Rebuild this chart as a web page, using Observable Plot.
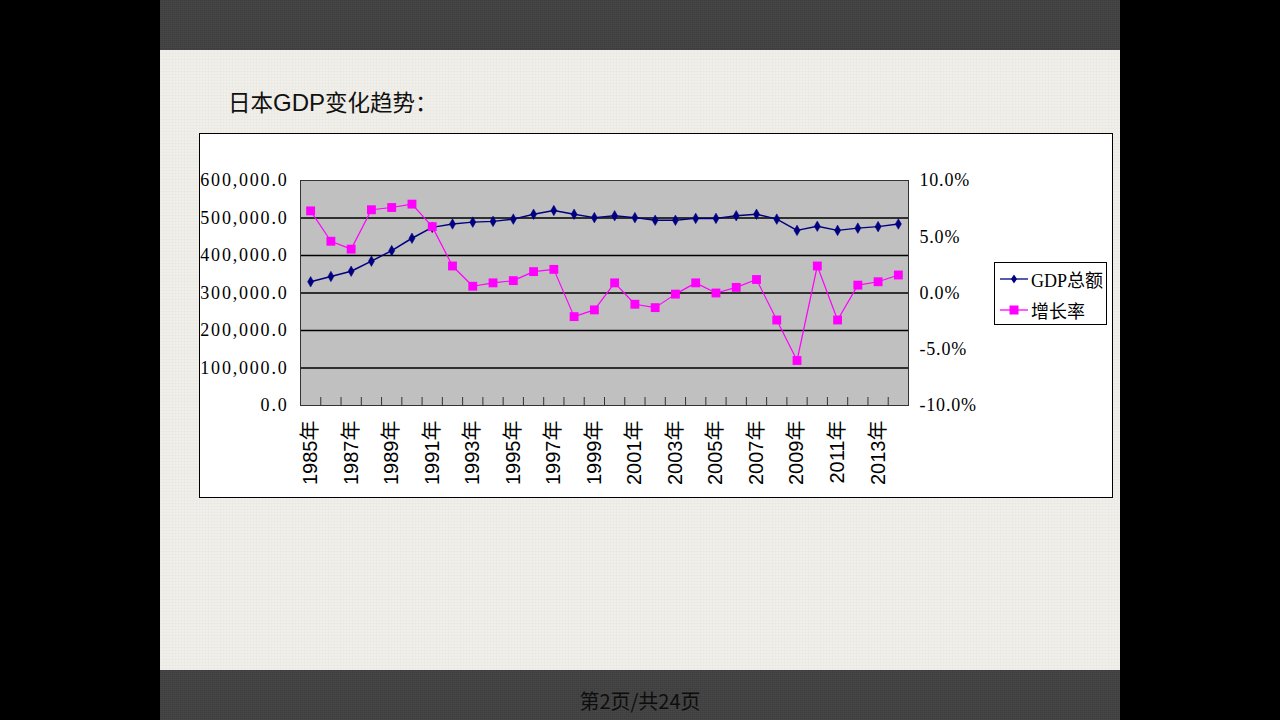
<!DOCTYPE html>
<html>
<head>
<meta charset="utf-8">
<script src="https://cdn.jsdelivr.net/npm/d3@7"></script>
<script src="https://cdn.jsdelivr.net/npm/@observablehq/plot@0.6"></script>
<style>
  html, body { margin: 0; padding: 0; background: #000; }
  #page { position: relative; width: 1280px; height: 720px; background: #000; overflow: hidden; }
  #slide { position: absolute; left: 160px; top: 0; width: 960px; height: 720px;
    background-color: #f1efe9;
    background-image: repeating-linear-gradient(0deg, rgba(0,0,0,0.015) 0 1px, transparent 1px 3px),
                      repeating-linear-gradient(90deg, rgba(0,0,0,0.015) 0 1px, transparent 1px 3px); }
  .bar { position: absolute; left: 160px; width: 960px; height: 50px; background-color: #414141;
    background-image: repeating-linear-gradient(0deg, rgba(255,255,255,0.03) 0 1px, transparent 1px 2px),
                      repeating-linear-gradient(90deg, rgba(0,0,0,0.05) 0 1px, transparent 1px 2px); }
  #topbar { top: 0; }
  #botbar { top: 670px; }
  #title { position: absolute; left: 228px; top: 90px; font-family: "Noto Sans CJK SC", "Liberation Sans", sans-serif;
    font-size: 22.5px; color: #111; white-space: nowrap; line-height: 1; }
  #title .lat { font-family: "Liberation Sans", Arial, sans-serif; font-size: 24px; }
  #footer { position: absolute; left: 0; width: 1280px; top: 691px; text-align: center;
    font-family: "Noto Sans CJK SC", sans-serif; font-size: 20px; color: #0d0d0d; line-height: 1; }
  #chartbox { position: absolute; left: 199px; top: 133px; width: 912px; height: 363px; border: 1px solid #000; background: #fff; }
  #chartbox svg { position: absolute; left: 0; top: 0; }
  #legend { position: absolute; left: 994px; top: 262px; width: 111px; height: 61px; border: 1px solid #000; background: #fff;
    font-family: "Liberation Serif", "Noto Sans CJK SC", serif; font-size: 18px; color: #000; }
  #legend .item { position: absolute; left: 5px; height: 24px; display: flex; align-items: center; white-space: nowrap; }
  #legend svg { margin-right: 3px; }
</style>
</head>
<body>
<div id="page">
  <div id="slide"></div>
  <div class="bar" id="topbar"></div>
  <div class="bar" id="botbar"></div>
  <div id="title">日本<span class="lat">GDP</span>变化趋势：</div>
  <div id="chartbox"></div>
  <div id="legend"></div>
  <div id="footer">第2页/共24页</div>
</div>
<script>
// ---- data ----
const years = [1985,1986,1987,1988,1989,1990,1991,1992,1993,1994,1995,1996,1997,1998,1999,
               2000,2001,2002,2003,2004,2005,2006,2007,2008,2009,2010,2011,2012,2013,2014];
const gdpTotal = [330000,344000,358000,385000,413000,446000,475000,484000,489000,491000,497000,510000,520000,510000,501000,
                  506000,501000,494000,494000,499000,499000,506000,510000,497000,467000,478000,467000,473000,477000,484000];
const growthRate = [7.3,4.6,3.9,7.4,7.6,7.9,5.9,2.4,0.6,0.9,1.1,1.9,2.1,-2.1,-1.5,
                    0.9,-1.0,-1.3,-0.1,0.9,0.0,0.5,1.2,-2.4,-6.0,2.4,-2.4,0.7,1.0,1.6];
const leftTicks = [0,100000,200000,300000,400000,500000,600000];
const rightTicks = [-10,-5,0,5,10];
const labelYears = [1985,1987,1989,1991,1993,1995,1997,1999,2001,2003,2005,2007,2009,2011,2013];
const seriesNames = ["GDP总额","增长率"];

const gdpMax = 600000, rateMin = -10, rateMax = 10;
const rateToLeft = r => (r - rateMin) / (rateMax - rateMin) * gdpMax;
const leftToRate = v => v / gdpMax * (rateMax - rateMin) + rateMin;

const rows = years.map((y, i) => ({year: y, gdp: gdpTotal[i], rate: growthRate[i]}));
const bounds = years.slice(1).map(y => y - 0.5);

const navy = "#000080", magenta = "#ff00ff";

const chart = Plot.plot({
  width: 912, height: 363,
  marginLeft: 100, marginRight: 204, marginTop: 46, marginBottom: 92,
  style: {background: "#fff", fontFamily: "Liberation Serif, serif", fontSize: "18px", color: "#000", overflow: "visible"},
  x: {type: "linear", domain: [years[0] - 0.5, years[years.length - 1] + 0.5], label: null},
  y: {domain: [0, gdpMax], label: null},
  marks: [
    Plot.frame({fill: "#c0c0c0", stroke: "none"}),
    Plot.ruleY(leftTicks.slice(1, -1), {stroke: "#000", strokeWidth: 1.3}),
    Plot.ruleX(bounds, {stroke: "#333", strokeWidth: 1, insetTop: 217}),
    Plot.frame({stroke: "#333", strokeWidth: 1}),
    Plot.axisY({anchor: "left", label: null, ticks: leftTicks, tickFormat: d3.format(",.1f"), tickSize: 0, tickPadding: 12,
                fontFamily: "Liberation Serif, serif", fontSize: 18}),
    Plot.axisY({anchor: "right", label: null, ticks: rightTicks.map(rateToLeft), tickFormat: v => leftToRate(v).toFixed(1) + "%",
                tickSize: 0, tickPadding: 11, fontFamily: "Liberation Serif, serif", fontSize: 18}),
    Plot.axisX({anchor: "bottom", label: null, ticks: labelYears, tickFormat: d => d + "年", tickRotate: -90, tickSize: 0, tickPadding: 15,
                fontFamily: "Liberation Sans, Noto Sans CJK SC, sans-serif", fontSize: 20}),
    Plot.line(rows, {x: "year", y: "gdp", stroke: navy, strokeWidth: 1.5}),
    Plot.dot(rows, {x: "year", y: "gdp", symbol: "diamond", r: 3.2, fill: navy, stroke: navy, strokeWidth: 0.5}),
    Plot.line(rows, {x: "year", y: d => rateToLeft(d.rate), stroke: magenta, strokeWidth: 1.2}),
    Plot.dot(rows, {x: "year", y: d => rateToLeft(d.rate), symbol: "square", r: 5, fill: magenta, stroke: "none"})
  ]
});
// widen the numeric tick labels a little, like the half-width font of the original
const yLabelGroups = chart.querySelectorAll('g[aria-label="y-axis tick label"]');
if (yLabelGroups[0]) yLabelGroups[0].style.letterSpacing = "1.8px";
if (yLabelGroups[1]) yLabelGroups[1].style.letterSpacing = "0.8px";
document.getElementById("chartbox").appendChild(chart);

// legend
const legend = document.getElementById("legend");
const swatch = (color, shape) => {
  const s = d3.create("svg").attr("width", 28).attr("height", 14);
  s.append("line").attr("x1", 0).attr("x2", 28).attr("y1", 7).attr("y2", 7).attr("stroke", color).attr("stroke-width", 1.3);
  if (shape === "diamond") s.append("path").attr("d", "M14,2.5L17,7L14,11.5L11,7Z").attr("fill", color);
  else s.append("rect").attr("x", 9.5).attr("y", 2.5).attr("width", 9).attr("height", 9).attr("fill", color);
  return s.node();
};
[[seriesNames[0], navy, "diamond", 4], [seriesNames[1], magenta, "square", 35]].forEach(([name, c, shp, top]) => {
  const it = document.createElement("div");
  it.className = "item";
  it.style.top = top + "px";
  it.appendChild(swatch(c, shp));
  const t = document.createElement("span");
  t.textContent = name;
  it.appendChild(t);
  legend.appendChild(it);
});
</script>
</body>
</html>
